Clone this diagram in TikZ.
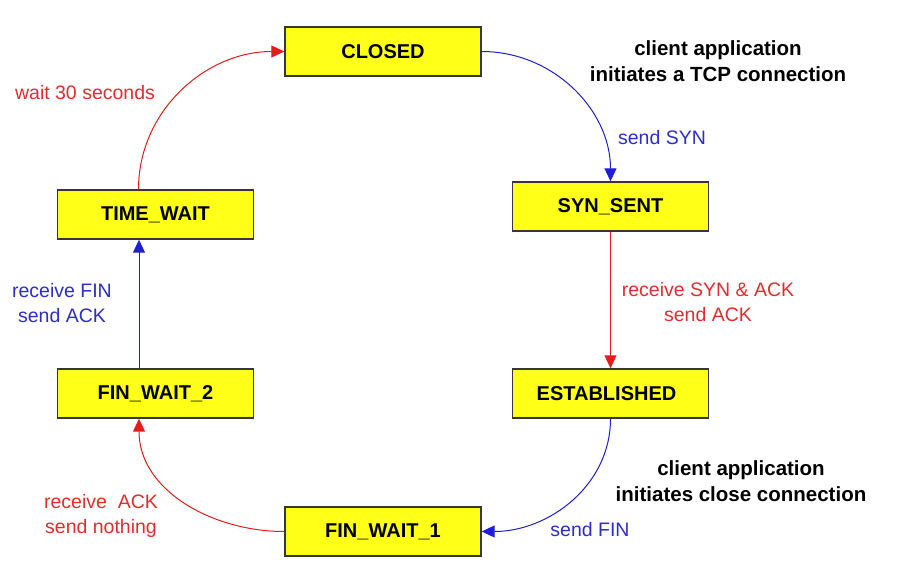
\documentclass[tikz,border=0pt]{standalone}
\usepackage{fontspec}
\setmainfont{Liberation Sans}
\usetikzlibrary{arrows.meta}
\definecolor{boxfill}{RGB}{255,255,24}
\definecolor{boxline}{RGB}{55,55,55}
\definecolor{arrred}{RGB}{228,28,28}
\definecolor{arrblue}{RGB}{30,30,215}
\definecolor{txtred}{RGB}{225,45,45}
\definecolor{txtblue}{RGB}{45,45,205}
\tikzset{
  state/.style={draw=boxline, line width=1.4pt, fill=boxfill, minimum width=196pt, minimum height=49pt, inner sep=0pt, font=\fontsize{20}{24}\selectfont\bfseries},
  redarr/.style={draw=arrred, line width=1pt, -{Triangle[length=13pt,width=12pt]}},
  bluearr/.style={draw=arrblue, line width=1pt, -{Triangle[length=13pt,width=12pt]}},
  redlbl/.style={text=txtred, align=center, inner sep=0pt, font=\fontsize{19.5}{25}\selectfont},
  bluelbl/.style={text=txtblue, align=center, inner sep=0pt, font=\fontsize{19.5}{25}\selectfont},
  blacklbl/.style={text=black, align=center, inner sep=0pt, font=\fontsize{20.5}{26}\selectfont\bfseries}
}
\begin{document}
\begin{tikzpicture}[x=1pt,y=-1pt]
\useasboundingbox (0,0) rectangle (901,567);
\node[state] (closed) at (383,51.5) {CLOSED};
\node[state] (synsent) at (610.5,206.5) {SYN\_SENT};
\node[state] (est) at (610.5,393.5) {\hspace*{-8pt}ESTABLISHED};
\node[state] (fw1) at (383,531.5) {FIN\_WAIT\_1};
\node[state] (fw2) at (155.5,393.5) {FIN\_WAIT\_2};
\node[state] (tw) at (155.5,214.5) {TIME\_WAIT};
% connectors
\draw[bluearr] (closed.east) to[out=0,in=90] (synsent.north);
\draw[redarr] (synsent.south) -- (est.north);
\draw[bluearr] (est.south) to[out=-90,in=0] (fw1.east);
\draw[redarr] (fw1.west) to[out=180,in=-90] ([xshift=-16.5pt]fw2.south);
\draw[bluearr] ([xshift=-16.5pt]fw2.north) -- ([xshift=-16.5pt]tw.south);
\draw[redarr] ([xshift=-17pt]tw.north) to[out=90,in=180] (closed.west);
% labels
\node[blacklbl] (l1) at (718,61) {client application\\initiates a TCP connection};
\node[bluelbl] (l2) at (662,138) {send SYN};
\node[redlbl] (l3) at (708,302) {receive SYN \& ACK\\send ACK};
\node[blacklbl] (l4) at (741,481) {client application\\initiates close connection};
\node[bluelbl] (l5) at (590,530) {send FIN};
\node[redlbl] (l6) at (101,516) {receive\ \ ACK\\send nothing};
\node[bluelbl] (l7) at (62,303) {receive FIN\\send ACK};
\node[redlbl] (l8) at (85,93) {wait 30 seconds};
\end{tikzpicture}
\end{document}
